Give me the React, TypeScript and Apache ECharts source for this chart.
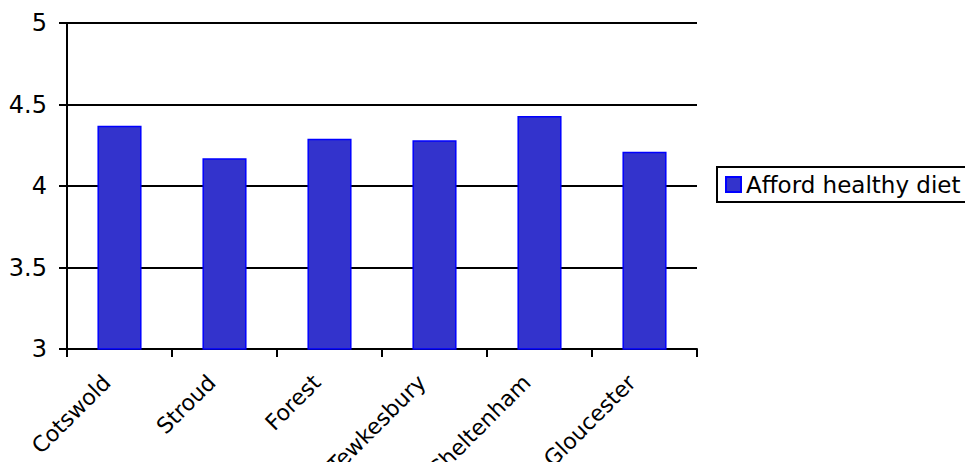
import React, { useEffect, useRef } from "react";
import * as echarts from "echarts";

const categories = ["Cotswold", "Stroud", "Forest", "Tewkesbury", "Cheltenham", "Gloucester"];
const seriesName = "Afford healthy diet";
const values = [4.37, 4.17, 4.29, 4.28, 4.43, 4.21];
const yMin = 3;
const yMax = 5;
const yInterval = 0.5;

export default function App() {
  const ref = useRef<HTMLDivElement>(null);
  useEffect(() => {
    if (!ref.current) return;
    const chart = echarts.init(ref.current, undefined, { renderer: "svg" });
    const font = "DejaVu Sans";
    chart.setOption({
      animation: false,
      backgroundColor: "#ffffff",
      textStyle: { fontFamily: font, color: "#000" },
      grid: { left: 67, right: 276, top: 23, height: 326, containLabel: false, outerBoundsMode: "none" },
      legend: {
        data: [seriesName],
        left: 717,
        top: 167,
        orient: "vertical",
        icon: "rect",
        itemWidth: 15,
        itemHeight: 15,
        itemGap: 0,
        borderColor: "#000",
        borderWidth: 2,
        padding: [6, 18, 6, 8],
        textStyle: { fontFamily: font, fontSize: 23, color: "#000" },
      },
      xAxis: {
        type: "category",
        data: categories,
        boundaryGap: true,
        axisLine: { lineStyle: { color: "#000", width: 2 } },
        axisTick: { show: true, length: 8, alignWithLabel: false, lineStyle: { color: "#000", width: 2 } },
        axisLabel: {
          rotate: 45,
          fontSize: 22,
          color: "#000",
          fontFamily: font,
          margin: 17,
          padding: [0, 18, 0, 0],
          interval: 0,
          hideOverlap: false,
        },
      },
      yAxis: {
        type: "value",
        min: yMin,
        max: yMax,
        interval: yInterval,
        axisLine: { show: true, lineStyle: { color: "#000", width: 2 } },
        axisTick: { show: true, length: 8, lineStyle: { color: "#000", width: 2 } },
        axisLabel: { fontSize: 24, color: "#000", fontFamily: font, margin: 20 },
        splitLine: { show: true, lineStyle: { color: "#000", width: 2 } },
      },
      series: [
        {
          name: seriesName,
          type: "bar",
          data: values,
          barWidth: "42%",
          itemStyle: { color: "#3333CC", borderColor: "#0000FF", borderWidth: 1.5 },
        },
      ],
    });
    return () => chart.dispose();
  }, []);
  return <div ref={ref} style={{ width: 973, height: 470, margin: -8 }} />;
}
